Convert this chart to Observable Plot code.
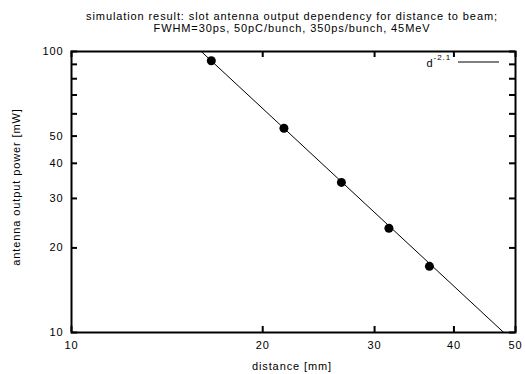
<!DOCTYPE html>
<html>
<head>
<meta charset="utf-8">
<script src="https://cdn.jsdelivr.net/npm/d3@7"></script>
<script src="https://cdn.jsdelivr.net/npm/@observablehq/plot@0.6"></script>
<style>
  body { margin: 0; background: #fff; }
  svg text { letter-spacing: 0.9px; }
</style>
</head>
<body>
<script>
// data
const distance = [16.6, 21.6, 26.6, 31.6, 36.6];      // mm
const power    = [92.7, 53.3, 34.2, 23.5, 17.2];      // mW
// fit: P = coef * d^exponent
const fitExponent = -2.1;
const fitCoef = Math.pow(10, 4.529);
const fitRange = [10, 50];
const xTicks = [10, 20, 30, 40, 50];
const yTicks = [10, 20, 30, 40, 50, 60, 70, 80, 90, 100];
const yLabeled = [10, 20, 30, 40, 50, 100];
const titleLines = [
  "simulation result: slot antenna output dependency for distance to beam;",
  "FWHM=30ps, 50pC/bunch, 350ps/bunch, 45MeV"
];
const xLabel = "distance [mm]";
const yLabel = "antenna output power [mW]";

const points = distance.map((d, i) => ({d, p: power[i]}));
const fit = fitRange.map(d => ({d, p: fitCoef * Math.pow(d, fitExponent)}));

const W = 525, H = 374, mL = 71, mR = 10, mT = 51, mB = 42;
const fh = H - mT - mB, fw = W - mL - mR;
const tk = 6;
const tc = "#000";
const font = "Liberation Sans, Arial, sans-serif";

const chart = Plot.plot({
  width: W, height: H,
  marginLeft: mL, marginRight: mR, marginTop: mT, marginBottom: mB,
  style: {fontFamily: font, fontSize: "11px", color: "#000", background: "#fff"},
  x: {type: "log", domain: [10, 50]},
  y: {type: "log", domain: [10, 100]},
  marks: [
    Plot.line(fit, {x: "d", y: "p", stroke: "#000", strokeWidth: 1, clip: true}),
    Plot.dot(points, {x: "d", y: "p", r: 4.5, fill: "#000", stroke: null}),
    Plot.tickX(xTicks, {x: d => d, insetTop: fh - tk, stroke: tc, strokeWidth: 2}),
    Plot.tickX(xTicks, {x: d => d, insetBottom: fh - tk, stroke: tc, strokeWidth: 2}),
    Plot.tickY(yTicks, {y: d => d, insetRight: fw - tk, stroke: tc, strokeWidth: 2}),
    Plot.tickY(yTicks, {y: d => d, insetLeft: fw - tk, stroke: tc, strokeWidth: 2}),
    Plot.axisX({ticks: xTicks, tickSize: 0, tickPadding: 9, tickFormat: d => String(d), label: null, fontSize: 11}),
    Plot.axisY({ticks: yLabeled, tickSize: 0, tickPadding: 8, tickFormat: d => String(d), label: null, fontSize: 11}),
    Plot.frame({stroke: "#000", strokeWidth: 2})
  ]
});

const svg = d3.select(chart);
titleLines.forEach((s, i) => {
  svg.append("text").attr("x", 292).attr("y", 20 + 12 * i).attr("text-anchor", "middle")
    .attr("font-family", font).attr("font-size", 11).attr("fill", "#000").text(s);
});
svg.append("text").attr("x", 292).attr("y", 370).attr("text-anchor", "middle")
  .attr("font-family", font).attr("font-size", 11).attr("fill", "#000").text(xLabel);
svg.append("text").attr("transform", `translate(19.5,187) rotate(-90)`).attr("text-anchor", "middle")
  .attr("font-family", font).attr("font-size", 11).attr("fill", "#000").text(yLabel);
const lg = svg.append("g").attr("font-family", font).attr("font-size", 11).attr("fill", "#000");
const t = lg.append("text").attr("x", 451).attr("y", 67).attr("text-anchor", "end");
t.append("tspan").text("d");
t.append("tspan").attr("dy", -7).attr("font-size", 8).text("-2.1");
lg.append("line").attr("x1", 458).attr("x2", 499).attr("y1", 62).attr("y2", 62).attr("stroke", "#000");

document.body.appendChild(chart);
</script>
</body>
</html>
